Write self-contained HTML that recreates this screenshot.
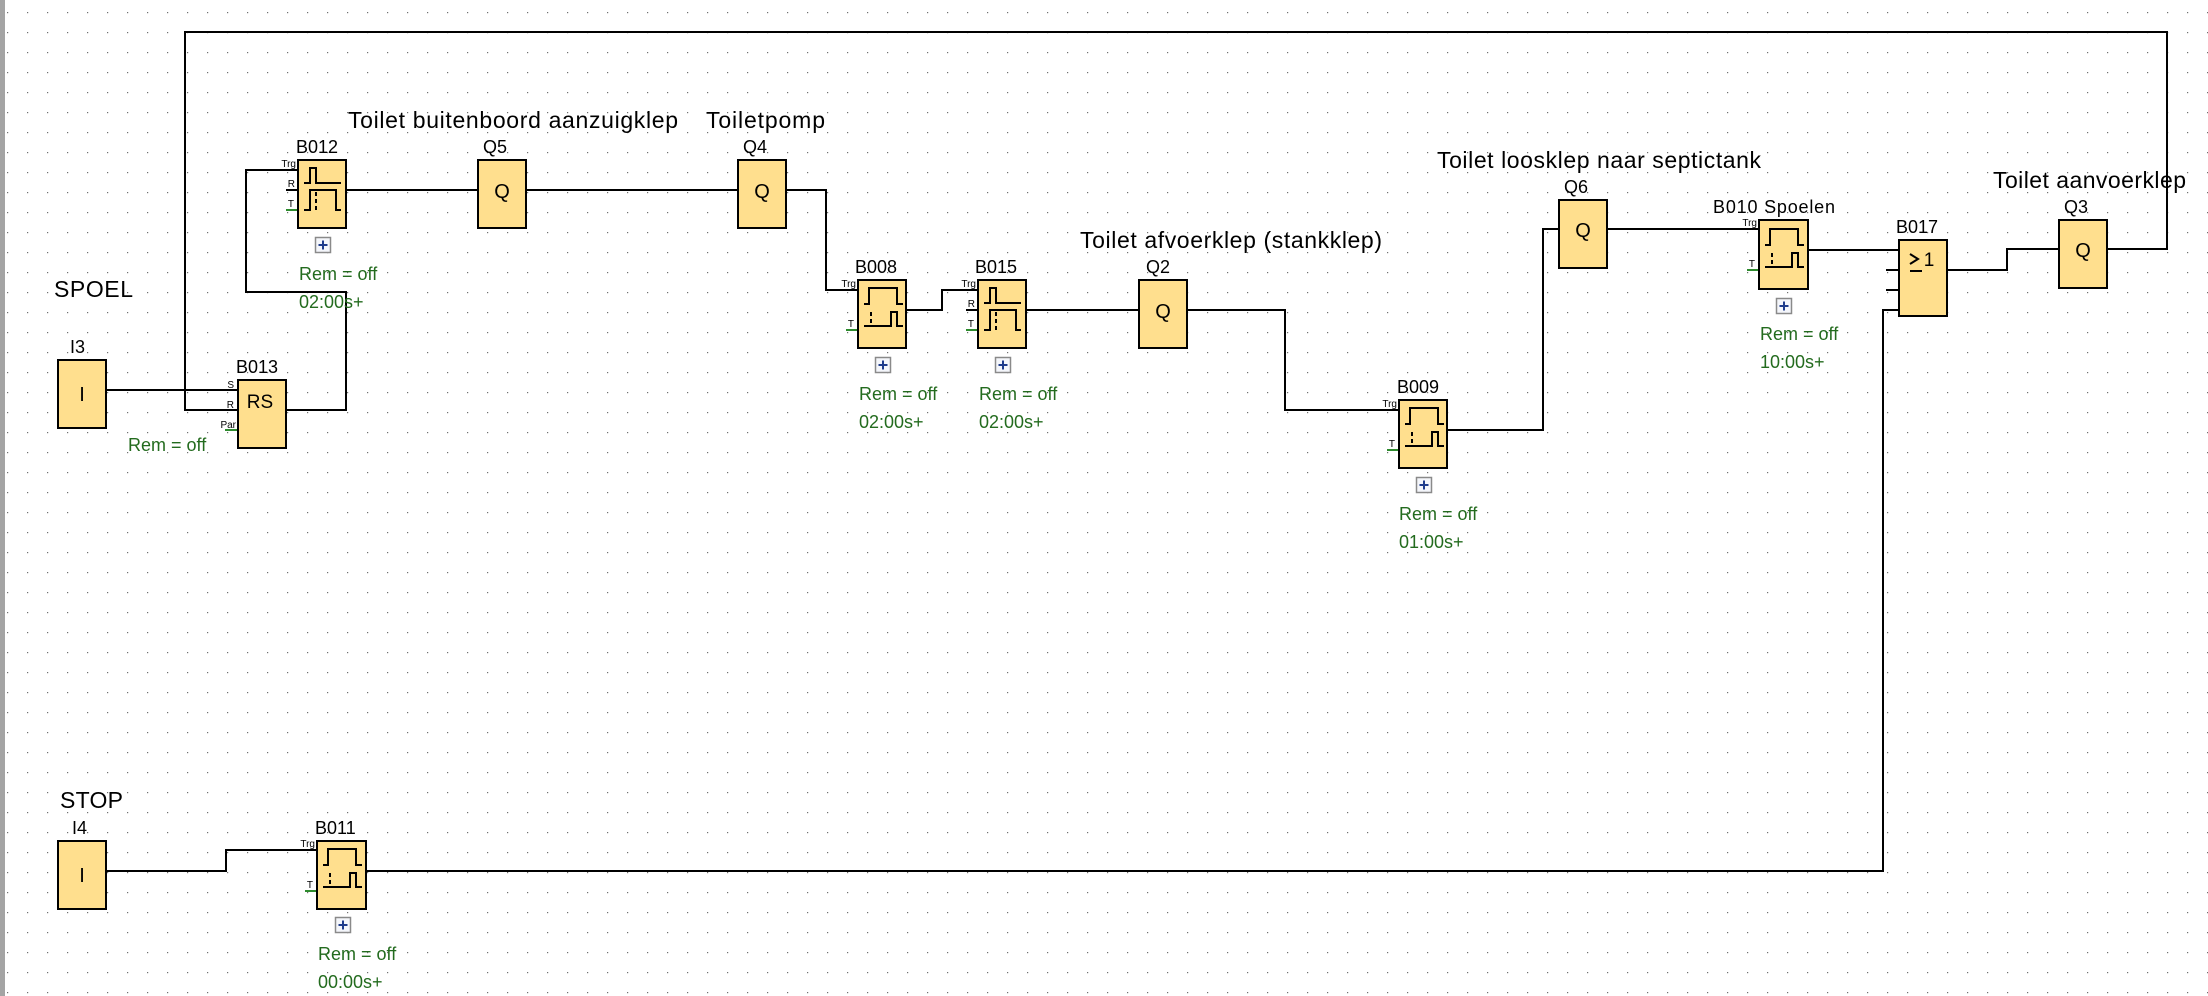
<!DOCTYPE html>
<html><head><meta charset="utf-8"><style>
html,body{margin:0;padding:0;background:#fff;}
svg{display:block;}
text{font-family:"Liberation Sans",Arial,sans-serif;}
</style></head><body>
<svg width="2208" height="996" viewBox="0 0 2208 996" xmlns="http://www.w3.org/2000/svg">
<defs>
<pattern id="dots" x="7" y="12" width="20" height="20" patternUnits="userSpaceOnUse">
<rect x="0" y="0" width="1.2" height="1.2" fill="#707070"/>
</pattern>
<g id="on"><path d="M6 24H11V8H39V24H45M6 46H33V32H39V46H45" fill="none" stroke="#000" stroke-width="2"/><path d="M13 32V46" stroke="#000" stroke-width="2" stroke-dasharray="4 3"/></g>
<g id="rt"><path d="M6 23H12V8H18V23H43M6 50H12V30H38V50H43" fill="none" stroke="#000" stroke-width="2"/><path d="M18 32V50" stroke="#000" stroke-width="2" stroke-dasharray="4 3"/></g>
<g id="plus"><rect x="0.5" y="0.5" width="15" height="15" fill="#f4f6fb" stroke="#8a8a8a" stroke-width="1.5"/><path d="M8 3.5V12.5M3.5 8H12.5" stroke="#1f3c8c" stroke-width="2"/></g>
</defs>
<rect width="2208" height="996" fill="#fff"/>
<rect width="2208" height="996" fill="url(#dots)"/>
<rect x="0" y="0" width="5" height="996" fill="#a4a4a4"/>

<g fill="none" stroke="#000" stroke-width="2">
<polyline points="238,410 185,410 185,32 2167,32 2167,249 2107,249"/>
<line x1="106" y1="390" x2="238" y2="390"/>
<polyline points="286,410 346,410 346,292 246,292 246,170 298,170"/>
<line x1="346" y1="190" x2="478" y2="190"/>
<line x1="526" y1="190" x2="738" y2="190"/>
<polyline points="786,190 826,190 826,290 858,290"/>
<polyline points="906,310 942,310 942,290 978,290"/>
<line x1="1026" y1="310" x2="1139" y2="310"/>
<polyline points="1187,310 1285,310 1285,410 1399,410"/>
<polyline points="1447,430 1543,430 1543,229 1559,229"/>
<line x1="1607" y1="229" x2="1759" y2="229"/>
<line x1="1808" y1="250" x2="1899" y2="250"/>
<polyline points="1947,270 2007,270 2007,249 2059,249"/>
<line x1="1886" y1="270" x2="1899" y2="270"/>
<line x1="1886" y1="290" x2="1899" y2="290"/>
<polyline points="1899,310 1883,310 1883,871 366,871"/>
<polyline points="106,871 226,871 226,850 317,850"/>
<line x1="286" y1="170" x2="298" y2="170"/>
<line x1="286" y1="190" x2="298" y2="190"/>
<line x1="846" y1="290" x2="858" y2="290"/>
<line x1="966" y1="310" x2="978" y2="310"/>
<line x1="1387" y1="410" x2="1399" y2="410"/>
<line x1="1747" y1="229" x2="1759" y2="229"/>
<line x1="305" y1="850" x2="317" y2="850"/>
<line x1="225" y1="390" x2="238" y2="390"/>
<line x1="225" y1="410" x2="238" y2="410"/>
</g>
<g stroke="#2e8b2e" stroke-width="2">
<line x1="286" y1="210" x2="298" y2="210"/>
<line x1="225" y1="430" x2="238" y2="430"/>
<line x1="846" y1="330" x2="858" y2="330"/>
<line x1="966" y1="330" x2="978" y2="330"/>
<line x1="1387" y1="450" x2="1399" y2="450"/>
<line x1="1747" y1="270" x2="1759" y2="270"/>
<line x1="305" y1="891" x2="317" y2="891"/>
</g>

<g fill="#ffdf8e" stroke="#000" stroke-width="2">
<rect x="58" y="360" width="48" height="68"/>
<rect x="58" y="841" width="48" height="68"/>
<rect x="238" y="380" width="48" height="68"/>
<rect x="298" y="160" width="48" height="68"/>
<rect x="478" y="160" width="48" height="68"/>
<rect x="738" y="160" width="48" height="68"/>
<rect x="858" y="280" width="48" height="68"/>
<rect x="978" y="280" width="48" height="68"/>
<rect x="1139" y="280" width="48" height="68"/>
<rect x="1399" y="400" width="48" height="68"/>
<rect x="1559" y="200" width="48" height="68"/>
<rect x="1759" y="220" width="49" height="69"/>
<rect x="1899" y="240" width="48" height="76"/>
<rect x="2059" y="220" width="48" height="68"/>
<rect x="317" y="841" width="49" height="68"/>
</g>
<use href="#rt" x="298" y="160"/>
<use href="#rt" x="978" y="280"/>
<use href="#on" x="858" y="280"/>
<use href="#on" x="1399" y="400"/>
<use href="#on" x="1759" y="221"/>
<use href="#on" x="317" y="841"/>
<use href="#plus" x="315" y="237"/>
<use href="#plus" x="875" y="357"/>
<use href="#plus" x="995" y="357"/>
<use href="#plus" x="1416" y="477"/>
<use href="#plus" x="1776" y="298"/>
<use href="#plus" x="335" y="917"/>

<g font-size="20" text-anchor="middle" fill="#000">
<text x="82" y="401">I</text>
<text x="82" y="882">I</text>
<text x="502" y="198">Q</text>
<text x="762" y="198">Q</text>
<text x="1163" y="318">Q</text>
<text x="1583" y="237">Q</text>
<text x="2083" y="257">Q</text>
<text x="260" y="408" font-size="19">RS</text>
<text x="1929" y="266" font-size="19">1</text>
</g>
<path d="M1910 254L1918 259L1910 264M1910 271H1922" fill="none" stroke="#000" stroke-width="2"/>

<g font-size="10" fill="#000" text-anchor="end">
<text x="296" y="167">Trg</text><text x="295" y="187">R</text><text x="294" y="207">T</text>
<text x="234" y="388">S</text><text x="234" y="408">R</text><text x="236" y="428">Par</text>
<text x="856" y="287">Trg</text><text x="854" y="327">T</text>
<text x="976" y="287">Trg</text><text x="975" y="307">R</text><text x="974" y="327">T</text>
<text x="1397" y="407">Trg</text><text x="1395" y="447">T</text>
<text x="1757" y="226">Trg</text><text x="1755" y="267">T</text>
<text x="315" y="847">Trg</text><text x="313" y="888">T</text>
</g>

<g font-size="18" fill="#000">
<text x="70" y="353">I3</text>
<text x="72" y="834">I4</text>
<text x="236" y="373">B013</text>
<text x="296" y="153">B012</text>
<text x="483" y="153">Q5</text>
<text x="743" y="153">Q4</text>
<text x="855" y="273">B008</text>
<text x="975" y="273">B015</text>
<text x="1146" y="273">Q2</text>
<text x="1397" y="393">B009</text>
<text x="1564" y="193">Q6</text>
<text x="1713" y="213" textLength="122">B010 Spoelen</text>
<text x="1896" y="233">B017</text>
<text x="2064" y="213">Q3</text>
<text x="315" y="834">B011</text>
</g>

<g font-size="23" fill="#000">
<text x="54" y="297" textLength="79">SPOEL</text>
<text x="60" y="808" textLength="63">STOP</text>
<text x="348" y="128" textLength="330">Toilet buitenboord aanzuigklep</text>
<text x="706" y="128" textLength="119">Toiletpomp</text>
<text x="1080" y="248" textLength="302">Toilet afvoerklep (stankklep)</text>
<text x="1437" y="168" textLength="324">Toilet loosklep naar septictank</text>
<text x="1993" y="188" textLength="193">Toilet aanvoerklep</text>
</g>

<g font-size="18" fill="#236b1e">
<text x="299" y="280">Rem = off</text><text x="299" y="308">02:00s+</text>
<text x="128" y="451">Rem = off</text>
<text x="859" y="400">Rem = off</text><text x="859" y="428">02:00s+</text>
<text x="979" y="400">Rem = off</text><text x="979" y="428">02:00s+</text>
<text x="1399" y="520">Rem = off</text><text x="1399" y="548">01:00s+</text>
<text x="1760" y="340">Rem = off</text><text x="1760" y="368">10:00s+</text>
<text x="318" y="960">Rem = off</text><text x="318" y="988">00:00s+</text>
</g>
</svg>
</body></html>
